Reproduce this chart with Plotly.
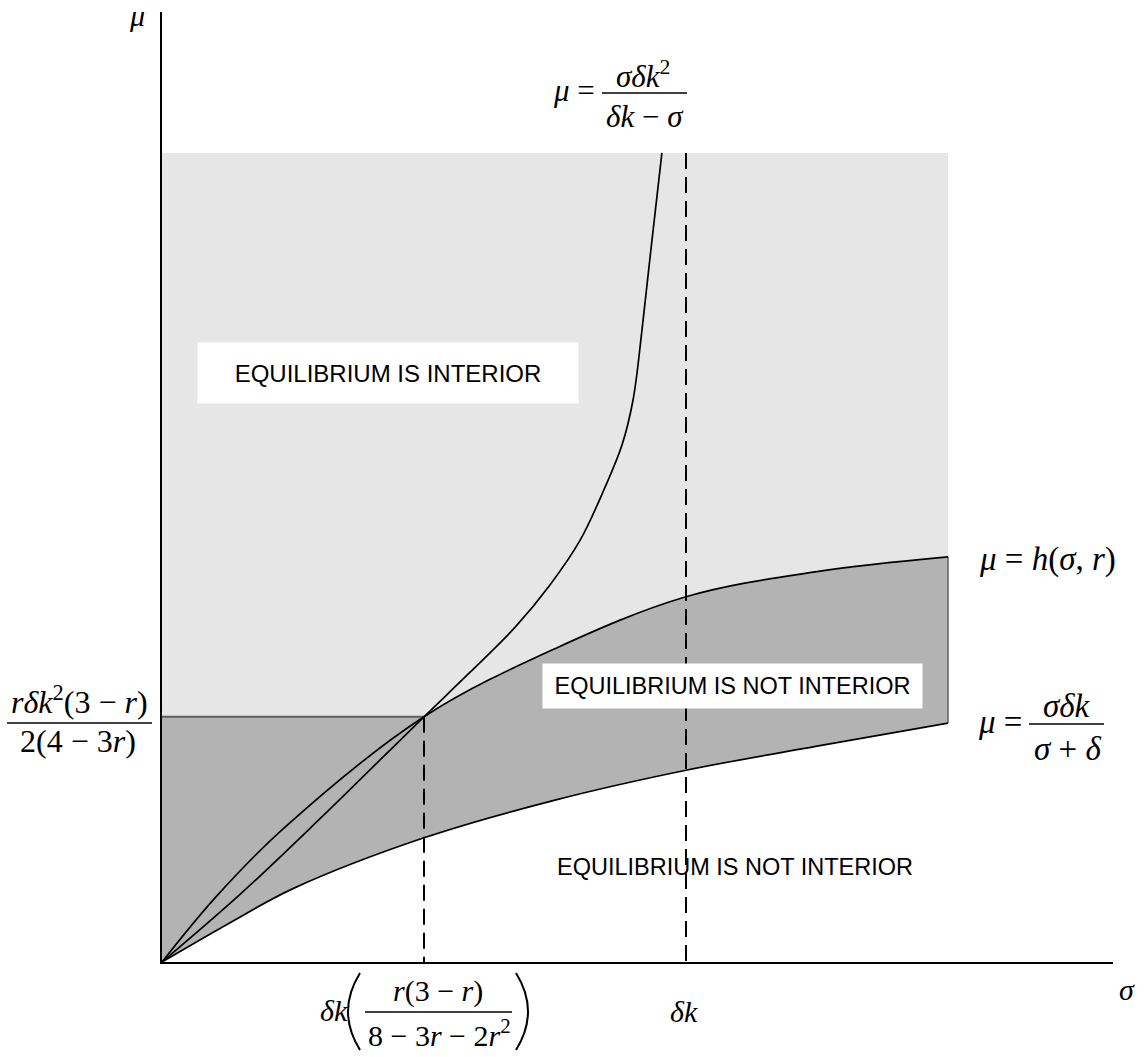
import plotly.graph_objects as go

# sigma is measured in units of delta*k; mu uses the same unit length
SIGMA_L = [0, 0.13, 0.25, 0.5, 0.75, 1.0, 1.25, 1.5]
MU_L = [0, 0.075, 0.140, 0.237, 0.309, 0.366, 0.412, 0.456]          # mu = sigma dk / (sigma + delta)

SIGMA_H = [0, 0.1, 0.23, 0.5, 0.75, 1.0, 1.25, 1.5]
MU_H = [0, 0.121, 0.253, 0.468, 0.598, 0.697, 0.745, 0.773]          # mu = h(sigma, r)

SIGMA_A = [0, 0.15, 0.3, 0.5, 0.588, 0.674, 0.740, 0.798, 0.845, 0.878, 0.899, 0.916, 0.933, 0.954]
MU_A = [0, 0.13, 0.272, 0.468, 0.553, 0.639, 0.719, 0.805, 0.905, 0.987, 1.073, 1.206, 1.359, 1.544]
# mu = sigma dk^2 / (dk - sigma)

SIGMA_STAR = 0.5    # dk * r(3-r) / (8 - 3r - 2r^2)
MU_STAR = 0.468     # r dk^2 (3-r) / (2(4-3r))
DK = 1.0
MU_TOP = 1.544

LIGHT = "#e6e6e6"
DARK = "#b3b3b3"
SERIF = "Liberation Serif"
SANS = "Liberation Sans"

W, H = 1146, 1057
ML, MR, MT, MB = 162, 33, 12, 95
PW, PH = W - ML - MR, H - MT - MB
UNIT = 524.0  # pixels per unit on both axes

def px(x):
    return (x - ML) / PW

def py(y):
    return (H - MB - y) / PH

fig = go.Figure()

# shaded regions
shapes = [
    dict(type="rect", xref="x", yref="y", x0=0, x1=SIGMA_L[-1], y0=0, y1=MU_TOP,
         fillcolor=LIGHT, line=dict(width=0), layer="below"),
    dict(type="rect", xref="x", yref="y", x0=0, x1=SIGMA_STAR, y0=0, y1=MU_STAR,
         fillcolor=DARK, line=dict(width=0), layer="below"),
]

fig.add_trace(go.Scatter(x=SIGMA_H, y=MU_H, mode="lines", line=dict(width=0, shape="spline"),
                         fill="tozeroy", fillcolor=DARK, hoverinfo="skip", showlegend=False))
fig.add_trace(go.Scatter(x=SIGMA_L, y=MU_L, mode="lines", line=dict(width=0, shape="spline"),
                         fill="tozeroy", fillcolor="white", hoverinfo="skip", showlegend=False))

# edges of the dark region
fig.add_trace(go.Scatter(x=[0, SIGMA_STAR], y=[MU_STAR, MU_STAR], mode="lines",
                         line=dict(color="#5f5f5f", width=2), hoverinfo="skip", showlegend=False))
fig.add_trace(go.Scatter(x=[SIGMA_L[-1], SIGMA_H[-1]], y=[MU_L[-1], MU_H[-1]], mode="lines",
                         line=dict(color="#5f5f5f", width=1.5), hoverinfo="skip", showlegend=False))

# dashed guides
fig.add_trace(go.Scatter(x=[SIGMA_STAR, SIGMA_STAR], y=[MU_STAR, 0], mode="lines",
                         line=dict(color="black", width=2, dash="16px,8px"), hoverinfo="skip", showlegend=False))
fig.add_trace(go.Scatter(x=[DK, DK], y=[MU_TOP, 0], mode="lines",
                         line=dict(color="black", width=2, dash="16px,8px"), hoverinfo="skip", showlegend=False))

# the three curves
for xs, ys in [(SIGMA_A, MU_A), (SIGMA_H, MU_H), (SIGMA_L, MU_L)]:
    fig.add_trace(go.Scatter(x=xs, y=ys, mode="lines", line=dict(color="black", width=1.7, shape="spline"),
                             hoverinfo="skip", showlegend=False))

annotations = []

def text(x, base, s, size=30, anchor="center", family=SERIF):
    # place one line of text by its baseline
    annotations.append(dict(xref="paper", yref="paper", x=px(x), y=py(base - 0.34 * size),
                            text=s, xanchor=anchor, yanchor="middle", showarrow=False,
                            font=dict(family=family, size=size, color="black")))

def bar(x0, x1, y, w=1.5):
    shapes.append(dict(type="line", xref="paper", yref="paper", x0=px(x0), x1=px(x1),
                       y0=py(y), y1=py(y), line=dict(color="black", width=w)))

def box(xc, yc, w, h, s, size=23):
    annotations.append(dict(xref="paper", yref="paper", x=px(xc), y=py(yc), text=s,
                            xanchor="center", yanchor="middle", showarrow=False,
                            width=w, height=h, bgcolor="white", borderpad=0,
                            font=dict(family=SANS, size=size, color="black")))

# region labels
box(388, 373, 380, 60, "EQUILIBRIUM IS INTERIOR", size=24)
box(732, 686, 379, 44, "EQUILIBRIUM IS NOT INTERIOR", size=23.5)
text(555, 875, "EQUILIBRIUM IS NOT INTERIOR", size=23.5, anchor="left", family=SANS)

# axis labels
text(137, 26, "<i>μ</i>", anchor="center")
text(1127, 1000, "<i>σ</i>", anchor="center")

# mu = sigma dk^2 / (dk - sigma)
text(597, 101, "<i>μ</i> =", size=31, anchor="right")
text(643, 85, "<i>σδk</i><sup>2</sup>", size=31)
bar(602, 687, 93)
text(645, 127, "<i>δk</i> − <i>σ</i>", size=31)

# mu = h(sigma, r)
text(977, 571, "<i>μ</i> = <i>h</i>(<i>σ</i>, <i>r</i>)", size=33, anchor="left")

# mu = sigma dk / (sigma + delta)
text(976, 733, "<i>μ</i> =", size=33, anchor="left")
text(1067, 717, "<i>σδk</i>", size=33)
bar(1029, 1104, 724)
text(1067, 760, "<i>σ</i> + <i>δ</i>", size=33)

# r dk^2 (3-r) / (2(4-3r))
text(79, 711, "<i>rδk</i><sup>2</sup>(3 − <i>r</i>)", size=32)
bar(7, 152, 723)
text(78, 752, "2(4 − 3<i>r</i>)", size=32)

# dk ( r(3-r) / (8 - 3r - 2r^2) )
text(334, 1021, "<i>δk</i>")
text(438, 1001, "<i>r</i>(3 − <i>r</i>)")
bar(365, 512, 1012)
text(439, 1043, "8 − 3<i>r</i> − 2<i>r</i><sup>2</sup>")
for xa, xc in [(360, 336), (516, 540)]:
    shapes.append(dict(type="path", xref="paper", yref="paper",
                       path=f"M {px(xa)},{py(973)} Q {px(xc)},{py(1011.5)} {px(xa)},{py(1050)}",
                       line=dict(color="black", width=2)))

text(684, 1022, "<i>δk</i>")

fig.update_layout(
    width=W, height=H,
    margin=dict(l=ML, r=MR, t=MT, b=MB),
    paper_bgcolor="white", plot_bgcolor="white",
    shapes=shapes, annotations=annotations,
    showlegend=False,
    xaxis=dict(range=[0, PW / UNIT], showline=True, linecolor="black", linewidth=2,
               showgrid=False, zeroline=False, showticklabels=False, ticks="", fixedrange=True),
    yaxis=dict(range=[0, PH / UNIT], showline=True, linecolor="black", linewidth=2,
               showgrid=False, zeroline=False, showticklabels=False, ticks="", fixedrange=True),
)

fig.write_html("out.html")
